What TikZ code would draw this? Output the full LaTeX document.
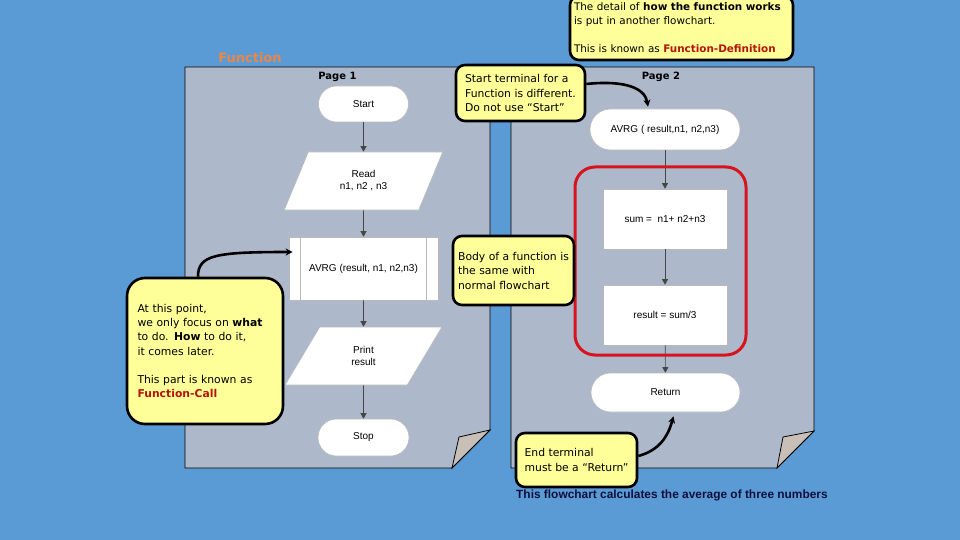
\documentclass[tikz,border=0pt]{standalone}
\usepackage{fontspec}
\setmainfont{DejaVu Sans}
\newfontfamily\arialf{Liberation Sans}
\usetikzlibrary{shapes.geometric,arrows.meta,calc}
\definecolor{bgblue}{RGB}{91,155,213}
\definecolor{pagegray}{RGB}{173,185,202}
\definecolor{foldtan}{RGB}{200,192,184}
\definecolor{noteyellow}{RGB}{255,255,153}
\definecolor{redtxt}{RGB}{180,20,10}
\definecolor{redframe}{RGB}{215,20,30}
\definecolor{orangetxt}{RGB}{235,135,70}
\definecolor{navytxt}{RGB}{15,15,60}
\definecolor{shapeedge}{RGB}{185,185,185}
\definecolor{flowline}{RGB}{70,70,70}
\begin{document}
\begin{tikzpicture}[x=1pt,y=-1pt,
  fc/.style={font=\arialf\fontsize{10}{12}\selectfont, align=center, fill=white, draw=shapeedge, line width=0.6pt, inner sep=0pt},
  term/.style={fc, rounded corners=#1},
  para/.style={fc, trapezium, trapezium left angle=63.4, trapezium right angle=116.6, trapezium stretches=true, minimum width=159pt, minimum height=58pt},
  proc/.style={fc, rectangle, minimum width=149pt, minimum height=63pt},
  boxnode/.style={fc, rectangle, minimum width=124pt, minimum height=60pt},
  flow/.style={draw=flowline, line width=0.6pt, -{Triangle[length=5.5pt,width=6pt]}},
  note/.style={draw=black, line width=2.6pt, fill=noteyellow, rounded corners=9pt, inner sep=2pt, align=left, font=\fontsize{10.8}{14.5}\selectfont},
  callarrow/.style={draw=black, line width=2.6pt, -{Stealth[length=7pt,width=7pt]}},
  pagelbl/.style={font=\bfseries\fontsize{10}{12}\selectfont}
]
\useasboundingbox (0,0) rectangle (960,540);
\clip (0,0) rectangle (960,540);
\fill[bgblue] (0,0) rectangle (960,540);

% pages
\draw[fill=pagegray, line width=0.9pt] (185,67) -- (490,67) -- (490,430) -- (452,468) -- (185,468) -- cycle;
\draw[fill=foldtan, line width=0.8pt] (490,430) -- (459,437) -- (452,468) -- cycle;
\draw[fill=pagegray, line width=0.9pt] (511,67) -- (814,67) -- (814,431) -- (777,468) -- (511,468) -- cycle;
\draw[fill=foldtan, line width=0.8pt] (814,431) -- (783,437) -- (777,468) -- cycle;

% labels
\node[font=\bfseries\fontsize{13}{15}\selectfont, text=orangetxt] (fn) at (250,58) {Function};
\node[pagelbl] (p1) at (337.5,77) {Page 1};
\node[pagelbl] (p2) at (661,77) {Page 2};

% page 1 flowchart
\node[term=18pt, minimum width=90pt, minimum height=36pt] (start) at (363.5,104) {Start};
\node[para] (read) at (363.5,181) {Read\\n1, n2 , n3};
\node[proc] (call) at (363.5,268.5) {AVRG (result, n1, n2,n3)};
\draw[shapeedge, line width=0.6pt] ($(call.north west)+(12,0)$) -- ($(call.south west)+(12,0)$);
\draw[shapeedge, line width=0.6pt] ($(call.north east)+(-12,0)$) -- ($(call.south east)+(-12,0)$);
\node[para, minimum width=157pt] (print) at (363.5,356) {Print\\result};
\node[term=18.5pt, minimum width=91pt, minimum height=37pt] (stop) at (363.5,437.5) {Stop};
\draw[flow] (start) -- (read);
\draw[flow] (read) -- (call);
\draw[flow] (call) -- (print);
\draw[flow] (print) -- (stop);

% page 2 flowchart
\node[term=20.5pt, minimum width=150pt, minimum height=41pt] (avrg) at (665,129.5) {AVRG ( result,n1, n2,n3)};
\node[boxnode] (sum) at (665,219) {sum =\ \ n1+ n2+n3};
\node[boxnode] (res) at (665,315) {result = sum/3};
\node[term=19.5pt, minimum width=149pt, minimum height=39pt] (ret) at (665.5,392.5) {Return};
\draw[flow] (avrg) -- (sum);
\draw[flow] (sum) -- (res);
\draw[flow] (res) -- (ret);
\draw[redframe, line width=3pt, rounded corners=20pt] (575,167) rectangle (746,355);

% callouts
\node[note, minimum width=223pt, minimum height=64pt, text width=215pt, inner xsep=4pt, font=\fontsize{10.4}{14}\selectfont] (c1) at (681.5,28)
  {The detail of \textbf{how the function works}\\is put in another flowchart.\\[14pt]This is known as \textcolor{redtxt}{\textbf{Function-Definition}}};
\node[note, minimum width=129pt, minimum height=56pt] (c2) at (520.5,93)
  {Start terminal for a\\Function is different.\\Do not use “Start”};
\node[note, minimum width=121pt, minimum height=69pt] (c3) at (513.5,270.5)
  {Body of a function is\\the same with\\normal flowchart};
\node[note, rounded corners=18pt, minimum width=156pt, minimum height=146pt, text width=135pt, inner xsep=10pt, font=\fontsize{10.8}{14.3}\selectfont] (c4) at (205,351)
  {At this point,\\we only focus on \textbf{what}\\to do. \textbf{How} to do it,\\it comes later.\\[14.3pt]This part is known as\\\textcolor{redtxt}{\textbf{Function-Call}}};
\node[note, minimum width=121pt, minimum height=54pt] (c5) at (576.5,460)
  {End terminal\\must be a “Return”};

% callout arrows
\draw[callarrow] ($(c2.east)+(0,-9)$) .. controls (625,80) and (645,88) .. ($(avrg.north)+(-17,-2)$);
\draw[callarrow] ($(c4.north)+(-7,0)$) .. controls (198,255) and (215,252) .. ($(call.west)+(4,-16.5)$);
\draw[callarrow] ($(c5.east)+(0,-4)$) .. controls (660,450) and (668,436) .. ($(ret.south)+(8,4)$);

% caption
\node[font=\arialf\bfseries\fontsize{11.9}{14}\selectfont, text=navytxt, anchor=west, inner sep=0pt] (cap) at (516,495) {This flowchart calculates the average of three numbers};
\end{tikzpicture}
\end{document}
